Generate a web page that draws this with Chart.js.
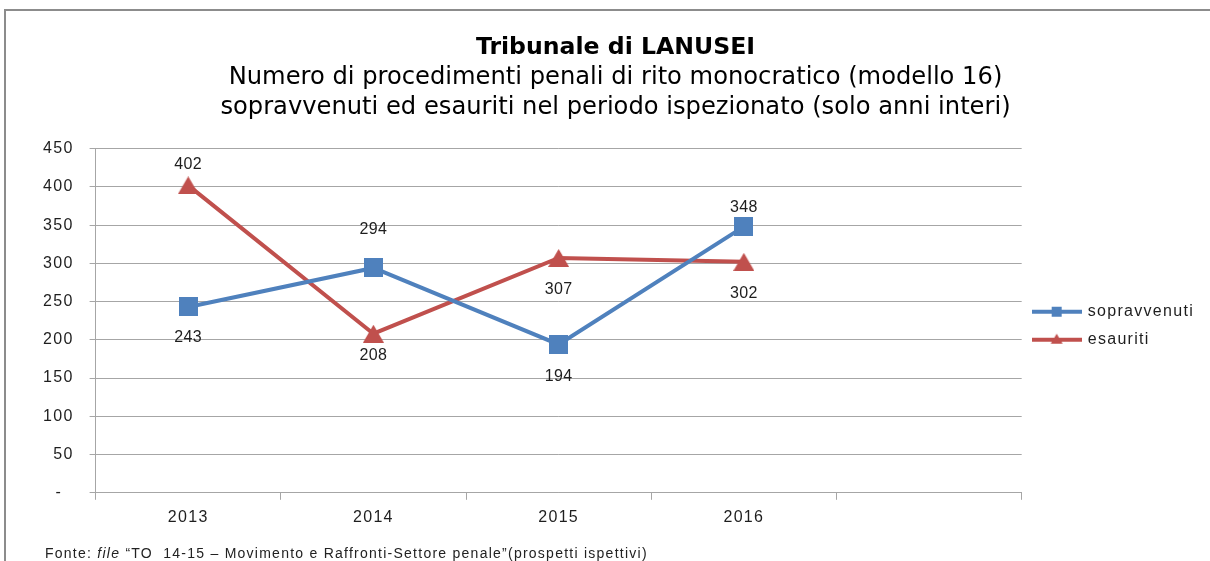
<!DOCTYPE html>
<html><head><meta charset="utf-8">
<script src="https://cdn.jsdelivr.net/npm/chart.js@4.4.0/dist/chart.umd.min.js"></script>
<style>
html,body{margin:0;padding:0;background:#fff;overflow:hidden;width:1210px;height:561px;}
#frame{position:absolute;left:4px;top:9px;width:1300px;height:700px;border-top:2px solid #8c8c8c;border-left:2px solid #8c8c8c;}
#wrap{position:absolute;left:0;top:0;width:1210px;height:561px;}
#note{position:absolute;left:45px;top:545px;font:14px "Liberation Sans",Arial,sans-serif;letter-spacing:1.25px;color:#222;white-space:nowrap;}
</style></head><body>
<div id="frame"></div>
<div id="wrap"><canvas id="c" width="1210" height="561"></canvas></div>
<div id="note">Fonte: <i>file</i> “TO&nbsp;&nbsp;14-15 – Movimento e Raffronti-Settore penale”(prospetti ispettivi)</div>
<script>
// ---- data ----
const categories = ['2013', '2014', '2015', '2016', ''];
const sopravvenuti = [243, 294, 194, 348, null];
const esauriti = [402, 208, 307, 302, null];
const yTickValues = [0, 50, 100, 150, 200, 250, 300, 350, 400, 450];
const seriesNames = ['sopravvenuti', 'esauriti'];

// ---- styles ----
const BLUE = '#4F81BD';
const RED = '#C0504D';
const GRID = '#a6a6a6';
const TXT = '#1e1e1e';
const SPACING = '1.3px';

function squareImg(color, side) {
  const c = document.createElement('canvas');
  c.width = side; c.height = side;
  const g = c.getContext('2d');
  g.fillStyle = color; g.fillRect(0, 0, side, side);
  return c;
}
function triImg(color, w, h) {
  const c = document.createElement('canvas');
  c.width = w; c.height = h;
  const g = c.getContext('2d');
  g.fillStyle = color;
  g.beginPath(); g.moveTo(w / 2, 0); g.lineTo(w, h); g.lineTo(0, h); g.closePath(); g.fill();
  return c;
}
function legendImg(color, marker) {
  const w = 50, h = 14;
  const c = document.createElement('canvas');
  c.width = w; c.height = h;
  const g = c.getContext('2d');
  g.strokeStyle = color; g.lineWidth = 4;
  g.beginPath(); g.moveTo(0, h / 2); g.lineTo(w, h / 2); g.stroke();
  g.fillStyle = color;
  if (marker === 'square') {
    g.fillRect(w / 2 - 5, h / 2 - 5, 10, 10);
  } else {
    g.beginPath(); g.moveTo(w / 2, h / 2 - 6); g.lineTo(w / 2 + 6, h / 2 + 4); g.lineTo(w / 2 - 6, h / 2 + 4); g.closePath(); g.fill();
  }
  return c;
}

const markerBlue = squareImg(BLUE, 19);
const markerRed = triImg(RED, 21, 18);
const legendBlue = legendImg(BLUE, 'square');
const legendRed = legendImg(RED, 'triangle');

// data labels: vertical offset (px) of label centre from the point, per series
const labelPlacement = [
  [31, -38, 32, -19],
  [-21, 22, 32, 32]
];

const spacingPlugin = {
  id: 'spacing',
  beforeUpdate(chart) { chart.ctx.letterSpacing = SPACING; },
  afterLayout(chart) {
    chart.boxes.forEach(b => {
      if (b.options && ('text' in b.options) && !b._plainWrapped) {
        const orig = b.draw.bind(b);
        b.draw = function (area) {
          const ctx = chart.ctx;
          const prev = ctx.letterSpacing;
          ctx.letterSpacing = '0px';
          orig(area);
          ctx.letterSpacing = prev;
        };
        b._plainWrapped = true;
      }
    });
  },
  beforeDraw(chart) { chart.ctx.letterSpacing = SPACING; }
};

const dataLabels = {
  id: 'dataLabels',
  afterDatasetsDraw(chart) {
    const ctx = chart.ctx;
    ctx.save();
    ctx.letterSpacing = '0.4px';
    ctx.font = '16px "Liberation Sans", Arial, sans-serif';
    ctx.fillStyle = TXT;
    ctx.textAlign = 'center';
    ctx.textBaseline = 'middle';
    chart.data.datasets.forEach((ds, di) => {
      const meta = chart.getDatasetMeta(di);
      meta.data.forEach((pt, i) => {
        const v = ds.data[i];
        if (v === null || v === undefined) return;
        ctx.fillText(String(v), pt.x, pt.y + labelPlacement[di][i]);
      });
    });
    ctx.restore();
  }
};

const axisFont = { family: '"Liberation Sans", Arial, sans-serif', size: 16 };

new Chart(document.getElementById('c'), {
  type: 'line',
  data: {
    labels: categories,
    datasets: [
      {
        label: seriesNames[0], data: sopravvenuti,
        borderColor: BLUE, backgroundColor: BLUE, borderWidth: 4,
        pointStyle: markerBlue, pointRadius: 10, tension: 0
      },
      {
        label: seriesNames[1], data: esauriti,
        borderColor: RED, backgroundColor: RED, borderWidth: 4,
        pointStyle: markerRed, pointRadius: 10, tension: 0
      }
    ]
  },
  options: {
    responsive: false,
    animation: false,
    events: [],
    layout: { padding: { left: 27, right: 6, top: 0, bottom: 26 } },
    plugins: {
      title: {
        display: true,
        text: 'Tribunale di LANUSEI',
        color: '#000',
        font: { family: '"DejaVu Sans", Verdana, sans-serif', size: 23.6, weight: 'bold', lineHeight: 1.17 },
        padding: { top: 34, bottom: 0 }
      },
      subtitle: {
        display: true,
        text: ['Numero di procedimenti penali di rito monocratico (modello 16)',
               'sopravvenuti ed esauriti nel periodo ispezionato (solo anni interi)'],
        color: '#000',
        font: { family: '"DejaVu Sans", Verdana, sans-serif', size: 24.2, weight: 'normal', lineHeight: 1.24 },
        padding: { top: 1, bottom: 26 }
      },
      legend: {
        position: 'right',
        align: 'center',
        fullSize: false,
        title: { display: true, text: '', font: { size: 1, lineHeight: 1 }, padding: { top: 9, bottom: 0 } },
        labels: {
          usePointStyle: true,
          pointStyleWidth: 46,
          padding: 12,
          color: TXT,
          font: axisFont,
          generateLabels(chart) {
            return chart.data.datasets.map((ds, i) => ({
              text: ds.label,
              pointStyle: i === 0 ? legendBlue : legendRed,
              fillStyle: ds.borderColor,
              strokeStyle: ds.borderColor,
              lineWidth: 0,
              fontColor: TXT,
              hidden: false,
              datasetIndex: i
            }));
          }
        }
      },
      tooltip: { enabled: false }
    },
    scales: {
      x: {
        offset: true,
        grid: { offset: true, drawOnChartArea: false, drawTicks: true, tickLength: 7, color: GRID },
        border: { color: GRID, width: 1 },
        ticks: { color: TXT, font: axisFont, padding: 8, maxRotation: 0 }
      },
      y: {
        min: 0, max: 450,
        afterBuildTicks(scale) { scale.ticks = yTickValues.map(v => ({ value: v })); },
        grid: { color: GRID, lineWidth: 1, tickLength: 6, drawTicks: true },
        border: { color: GRID, width: 1 },
        ticks: {
          color: TXT, font: axisFont, padding: 16,
          callback: v => (v === 0 ? '-  ' : String(v))
        }
      }
    }
  },
  plugins: [spacingPlugin, dataLabels]
});
</script>
</body></html>
